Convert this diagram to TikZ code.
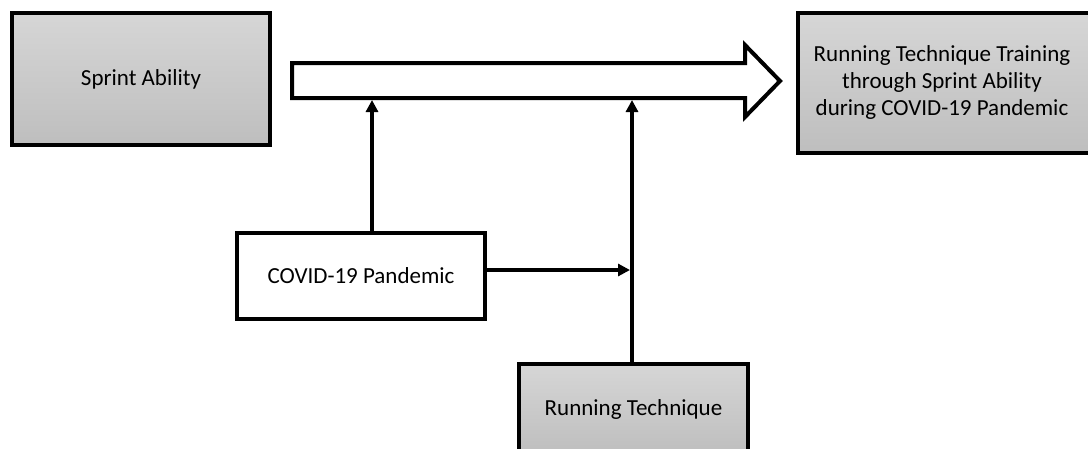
\documentclass[tikz,border=0pt]{standalone}
\usepackage{fontspec}
\setmainfont{Carlito}
\usetikzlibrary{arrows.meta}
\definecolor{boxtop}{RGB}{214,214,214}
\definecolor{boxbot}{RGB}{190,190,190}

\begin{document}
\begin{tikzpicture}[x=1pt, y=-1pt,
    box/.style={draw, line width=4.5pt, inner sep=0pt, font=\fontsize{23}{27}\selectfont},
    greybox/.style={box, top color=boxtop, bottom color=boxbot},
    link/.style={line width=3.5pt, -{Triangle[length=12pt, width=12pt]}}]
\useasboundingbox (0,0) rectangle (1088,448);

% boxes
\node[greybox, minimum width=258pt, minimum height=132pt] (sprint) at (141,79) {Sprint Ability};
\node[greybox, minimum width=300pt, minimum height=140pt] (goal) at (948,83)
  {\begin{tabular}{@{}c@{}}Running Technique Training\\through Sprint Ability\\during COVID-19 Pandemic\end{tabular}\hspace*{12pt}};
\node[box, fill=white, minimum width=248pt, minimum height=86pt] (covid) at (361,276) {COVID-19 Pandemic};
\node[greybox, minimum width=229pt, minimum height=90pt] (run) at (633.5,409) {Running Technique};

% hollow arrow
\draw[line width=4pt, fill=white] (292,63) -- (745,63) -- (745,45) -- (780,81)
  -- (745,117) -- (745,98) -- (292,98) -- cycle;
\coordinate (in1) at (372,100);
\coordinate (in2) at (632,100);
\coordinate (mod) at (630,270);

% connectors
\draw[link] (covid.north -| in1) -- (in1);
\draw[link] (run.north -| in2) -- (in2);
\draw[link] (covid.east |- mod) -- (mod);
\end{tikzpicture}
\end{document}
